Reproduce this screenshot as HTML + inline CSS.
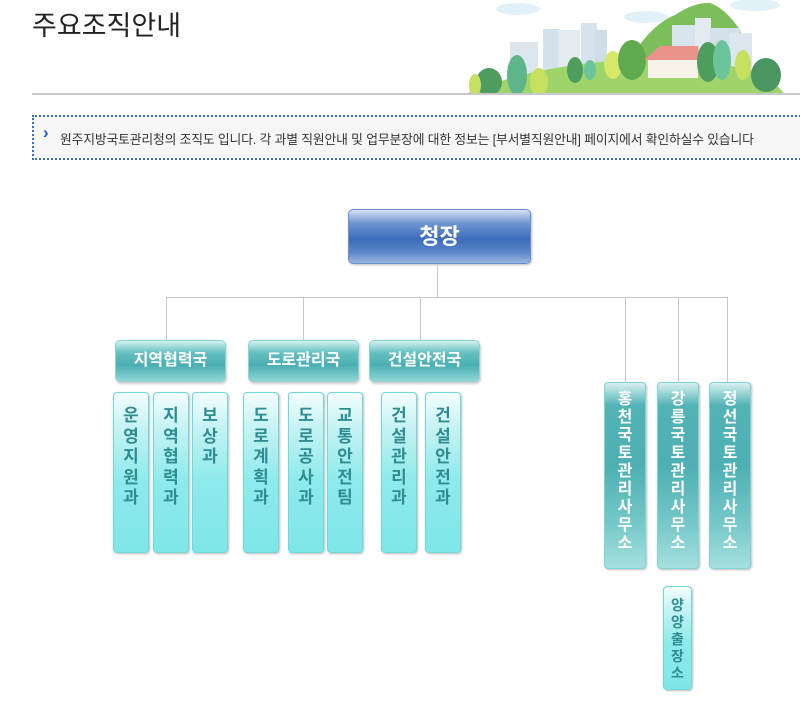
<!DOCTYPE html>
<html><head><meta charset="utf-8"><style>
*{margin:0;padding:0;box-sizing:border-box}
body{width:800px;height:727px;background:#fff;position:relative;overflow:hidden;font-family:"Liberation Sans","Noto Sans CJK KR",sans-serif}
.a{position:absolute}
h1{position:absolute;left:32px;top:4px;font-size:27px;font-weight:normal;color:#222;letter-spacing:0px}
.hr{left:32px;top:93px;width:768px;height:2px;background:#c8c8c8}
.note{left:32px;top:115px;width:780px;height:45px;border:2px dotted #3a6fd0;background:#f6f6f6;font-size:12.8px;color:#333;padding:12px 0 0 26px;letter-spacing:-0.15px}
.note b{position:absolute;left:9px;top:6px;color:#1a5fd0;font-size:17px}
.chief{left:348px;top:209px;width:183px;height:55px;border:1px solid #6a8fd0;border-radius:5px;background:linear-gradient(#d6e2f4 0%,#6f95d2 25%,#3d6cbb 55%,#5c86c8 80%,#9ab6e0 100%);color:#fff;font-size:22px;font-weight:bold;text-align:center;line-height:53px;box-shadow:1px 1px 2px #bbb}
.ln{background:#c9c9c9}
.bu{height:42px;width:111px;border-radius:5px;border:1px solid #8fd3d3;background:linear-gradient(#d4f1f1 0%,#63bfc0 30%,#4aafb2 60%,#8fd6d6 100%);color:#fff;font-weight:bold;font-size:16px;text-align:center;line-height:40px;box-shadow:1px 2px 2px #ccc}
.sm{top:392px;width:36px;height:161px;border-radius:4px;border:1px solid #6fd8da;background:linear-gradient(#f4fdfd 0%,#c9f3f4 20%,#8eeaeb 55%,#7ee6e8 100%);color:#2e8d91;font-weight:bold;font-size:17px;text-align:center;line-height:20.5px;padding-top:13px;box-shadow:1px 1px 2px #bbb}
.of{top:382px;width:42px;height:187px;border-radius:4px;border:1px solid #7fd4d6;background:linear-gradient(#d8f0f0 0%,#52b3b5 12%,#4eb0b2 45%,#74c7c8 75%,#a5e0df 100%);color:#fff;font-weight:bold;font-size:16px;text-align:center;line-height:18px;padding-top:8px;box-shadow:1px 1px 2px #bbb}
</style></head><body>
<h1>주요조직안내</h1>
<svg class="a" style="left:460px;top:0" width="340" height="95" viewBox="0 0 340 95">
<ellipse cx="58" cy="9" rx="22" ry="6" fill="#e2f1f8"/>
<ellipse cx="186" cy="17" rx="22" ry="6" fill="#e2f1f8"/>
<ellipse cx="295" cy="5" rx="25" ry="6" fill="#e2f1f8"/>
<path d="M170 60 Q190 25 215 15 Q235 2 250 3 Q265 8 280 30 L290 60Z" fill="#7cbf5a"/>
<rect x="50" y="42" width="28" height="40" fill="#dbe6ee"/>
<rect x="83" y="29" width="17" height="52" fill="#d3e1eb"/>
<rect x="98" y="30" width="22" height="50" fill="#e3ebf1"/>
<rect x="121" y="23" width="16" height="57" fill="#d6e3ec"/>
<rect x="135" y="30" width="12" height="50" fill="#cfdde8"/>
<rect x="212" y="25" width="25" height="50" fill="#d9e5ee"/>
<rect x="235" y="18" width="16" height="57" fill="#e3ebf1"/>
<rect x="250" y="28" width="30" height="47" fill="#d3e1eb"/>
<rect x="270" y="33" width="22" height="42" fill="#dbe6ee"/>
<path d="M3 95 Q60 70 140 62 Q230 55 290 70 Q315 80 325 95Z" fill="#9ed46a"/>
<ellipse cx="29" cy="82" rx="13" ry="14" fill="#4f9d5e"/>
<ellipse cx="57" cy="75" rx="10" ry="20" fill="#5fb58a"/>
<ellipse cx="79" cy="82" rx="9" ry="14" fill="#c8e060"/>
<ellipse cx="15" cy="85" rx="6" ry="11" fill="#c8e060"/>
<ellipse cx="115" cy="70" rx="8" ry="13" fill="#4f9d5e"/>
<ellipse cx="130" cy="70" rx="6" ry="10" fill="#6cc49a"/>
<ellipse cx="153" cy="65" rx="9" ry="14" fill="#d5e868"/>
<ellipse cx="172" cy="60" rx="14" ry="20" fill="#5faa4f"/>
<path d="M188 78 L188 58 L200 46 L238 46 L238 78Z" fill="#f8f3ea"/>
<path d="M184 60 L200 46 L238 46 L240 60Z" fill="#e9938a"/>
<ellipse cx="248" cy="62" rx="11" ry="20" fill="#4f9d5e"/>
<ellipse cx="262" cy="60" rx="9" ry="20" fill="#6cc49a"/>
<ellipse cx="283" cy="65" rx="8" ry="15" fill="#c8e060"/>
<ellipse cx="306" cy="75" rx="15" ry="17" fill="#4b9660"/>
</svg>
<div class="a hr"></div>
<div class="a note"><b>›</b>원주지방국토관리청의 조직도 입니다. 각 과별 직원안내 및 업무분장에 대한 정보는 [부서별직원안내] 페이지에서 확인하실수 있습니다</div>

<div class="a chief">청장</div>
<div class="a ln" style="left:437px;top:264px;width:1px;height:33px"></div>
<div class="a ln" style="left:166px;top:297px;width:562px;height:1px"></div>
<div class="a ln" style="left:166px;top:297px;width:1px;height:43px"></div>
<div class="a ln" style="left:303px;top:297px;width:1px;height:43px"></div>
<div class="a ln" style="left:420px;top:297px;width:1px;height:43px"></div>
<div class="a ln" style="left:625px;top:297px;width:1px;height:85px"></div>
<div class="a ln" style="left:678px;top:297px;width:1px;height:85px"></div>
<div class="a ln" style="left:727px;top:297px;width:1px;height:85px"></div>

<div class="a bu" style="left:115px;top:340px">지역협력국</div>
<div class="a bu" style="left:248px;top:340px">도로관리국</div>
<div class="a bu" style="left:369px;top:340px">건설안전국</div>

<div class="a sm" style="left:113px">운<br>영<br>지<br>원<br>과</div>
<div class="a sm" style="left:153px">지<br>역<br>협<br>력<br>과</div>
<div class="a sm" style="left:192px">보<br>상<br>과</div>
<div class="a sm" style="left:243px">도<br>로<br>계<br>획<br>과</div>
<div class="a sm" style="left:288px">도<br>로<br>공<br>사<br>과</div>
<div class="a sm" style="left:327px">교<br>통<br>안<br>전<br>팀</div>
<div class="a sm" style="left:381px">건<br>설<br>관<br>리<br>과</div>
<div class="a sm" style="left:425px">건<br>설<br>안<br>전<br>과</div>

<div class="a of" style="left:604px">홍<br>천<br>국<br>토<br>관<br>리<br>사<br>무<br>소</div>
<div class="a of" style="left:657px">강<br>릉<br>국<br>토<br>관<br>리<br>사<br>무<br>소</div>
<div class="a of" style="left:709px">정<br>선<br>국<br>토<br>관<br>리<br>사<br>무<br>소</div>
<div class="a sm" style="left:663px;top:586px;width:29px;height:104px;font-size:14px;line-height:17px;padding-top:10px">양<br>양<br>출<br>장<br>소</div>
</body></html>
